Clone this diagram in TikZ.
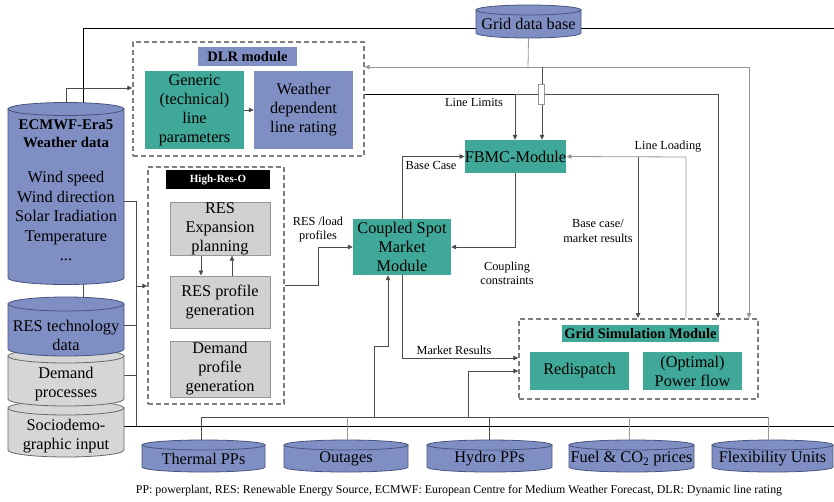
\documentclass[tikz,border=0pt]{standalone}
\usepackage{fontspec}
\setmainfont{Liberation Serif}
\usetikzlibrary{arrows.meta,calc}
\definecolor{cblue}{RGB}{127,143,196}
\definecolor{cblued}{RGB}{72,84,125}
\definecolor{cteal}{RGB}{63,168,152}
\definecolor{cgrayf}{RGB}{210,208,209}
\definecolor{cgrayd}{RGB}{150,150,150}
\definecolor{ccylg}{RGB}{214,214,214}
\definecolor{ccylgd}{RGB}{105,105,105}
\definecolor{cdash}{RGB}{125,125,125}
\definecolor{cdark}{RGB}{75,75,75}
\definecolor{clight}{RGB}{150,150,150}
\newcommand\dbcyl[7]{%
  \path[#7] (#2,#4) -- (#2,#5) arc[start angle=180,end angle=360,x radius={((#3)-(#2))/2*1pt},y radius=#6pt] -- (#3,#4) -- cycle;
  \path[#7] ({((#2)+(#3))/2},#4) ellipse[x radius={((#3)-(#2))/2*1pt},y radius=#6pt];
  \node[inner sep=0pt,minimum width={((#3)-(#2))*1pt},minimum height={((#5)-(#4)+2*(#6))*1pt}] (#1) at ({((#2)+(#3))/2},{((#4)+(#5))/2}) {};
}
\begin{document}
\begin{tikzpicture}[x=1pt,y=-1pt,
  box/.style={rectangle,inner sep=0pt,align=center,font=\fontsize{16.3}{19}\selectfont},
  tealbox/.style={box,fill=cteal},
  bluebox/.style={box,fill=cblue},
  graybox/.style={box,fill=cgrayf,draw=cgrayd,line width=1pt},
  dashbox/.style={rectangle,inner sep=0pt,draw=cdash,line width=1.4pt,dash pattern=on 5pt off 3pt},
  hdr/.style={rectangle,inner sep=0pt,align=center,font=\bfseries\fontsize{14.5}{17}\selectfont},
  cyltxt/.style={inner sep=0pt,align=center,font=\fontsize{16.3}{19}\selectfont},
  lbl/.style={inner sep=0pt,align=center,font=\fontsize{12.3}{14}\selectfont},
  bluecyl/.style={fill=cblue,draw=cblued,line width=0.8pt},
  graycyl/.style={fill=ccylg,draw=ccylgd,line width=0.8pt},
  blk/.style={draw=black,line width=0.9pt},
  dk/.style={draw=cdark,line width=0.8pt},
  lt/.style={draw=clight,line width=0.8pt},
  tip/.style={-{Triangle[length=5pt,width=4.5pt]}}
]
\path[use as bounding box] (0,0) rectangle (834,501);

% long black lines
\draw[blk] (83,110) -- (83,28) -- (834,28);
\draw[blk] (124,426) -- (834,426);

% left side feed lines
\draw[dk] (83,278) -- (83,300);
\draw[dk] (124,201) -- (136,201) -- (136,426);
\draw[dk] (124,325) -- (136,325);
\draw[dk] (124,375) -- (136,375);

% cylinders left stack
\dbcyl{socio}{8}{124}{408}{450}{7}{graycyl}
\dbcyl{demand}{8}{124}{356}{399}{7}{graycyl}
\dbcyl{restech}{8}{124}{304}{349}{7}{bluecyl}
\dbcyl{ecmwf}{8}{124}{109}{278}{6.5}{bluecyl}
\node[cyltxt,font=\bfseries\fontsize{14.8}{18}\selectfont] (ecmwf-t) at (66,134) {ECMWF-Era5\\Weather data};
\node[cyltxt,font=\fontsize{16.3}{19.5}\selectfont] (ecmwf-b) at (66,216) {Wind speed\\Wind direction\\Solar Iradiation\\Temperature\\...};
\node[cyltxt] (restech-t) at (66,335) {RES technology\\data};
\node[cyltxt] (demand-t) at (66,384) {Demand\\processes};
\node[cyltxt] (socio-t) at (66,436) {Sociodemo-\\graphic input};

% grid data base
\dbcyl{gdb}{476}{581}{10}{33}{5}{bluecyl}
\node[cyltxt] (gdb-t) at (528.5,24) {Grid data base};

% bottom cylinders
\dbcyl{thermal}{142}{265}{445}{467}{5}{bluecyl}
\dbcyl{outages}{284}{408}{445}{467}{5}{bluecyl}
\dbcyl{hydro}{427}{552}{445}{467}{5}{bluecyl}
\dbcyl{fuel}{569}{694}{445}{467}{5}{bluecyl}
\dbcyl{flex}{712}{833}{445}{467}{5}{bluecyl}
\node[cyltxt] (thermal-t) at (203.5,459) {Thermal PPs};
\node[cyltxt] (outages-t) at (346,459) {Outages};
\node[cyltxt] (hydro-t) at (489.5,459) {Hydro PPs};
\node[cyltxt] (fuel-t) at (631.5,459) {Fuel \& CO\textsubscript{2} prices};
\node[cyltxt] (flex-t) at (772.5,459) {Flexibility Units};

% DLR module
\node[dashbox,minimum width=231pt,minimum height=114pt] (dlr) at (248.5,99) {};
\node[hdr,fill=cblue,minimum width=99pt,minimum height=19pt] (dlr-h) at (247.5,56.5) {DLR module};
\node[tealbox,minimum width=99pt,minimum height=78pt] (generic) at (194.5,110) {Generic\\(technical)\\line\\parameters};
\node[bluebox,minimum width=99pt,minimum height=78pt] (wdlr) at (303.5,110) {Weather\\dependent\\line rating};
\draw[dk,tip] (generic) -- (wdlr);

% High-Res-O
\node[dashbox,minimum width=136pt,minimum height=237pt] (hro) at (216,285.5) {};
\node[rectangle,inner sep=0pt,fill=black,text=white,font=\bfseries\fontsize{11}{13}\selectfont,minimum width=104pt,minimum height=19pt] (hro-h) at (218,179.5) {High-Res-O};
\node[graybox,minimum width=100pt,minimum height=52pt] (resexp) at (220,229) {RES\\Expansion\\planning};
\node[graybox,minimum width=100pt,minimum height=52pt] (resprof) at (220,302) {RES profile\\generation};
\node[graybox,minimum width=100pt,minimum height=56pt] (demprof) at (220,369) {Demand\\profile\\generation};
\draw[dk,tip] (resexp.south -| 201,0) -- (resprof.north -| 201,0);
\draw[dk,tip] (resprof.north -| 232,0) -- (resexp.south -| 232,0);

% ECMWF -> DLR ; feeds -> High-Res-O
\draw[dk,tip] (66,103) -- (66,88) -- (dlr.west |- 0,88);
\draw[dk,tip] (136,286) -- (hro.west |- 0,286);

% Coupled spot market
\node[tealbox,minimum width=98pt,minimum height=56pt] (coupled) at (402,247) {Coupled Spot\\Market\\Module};
\node[tealbox,minimum width=99pt,minimum height=33pt] (fbmc) at (515.5,156.5) {FBMC-Module};

\draw[dk,tip] (hro.east |- 0,285) -- (318,285) -- (318,247) -- (coupled.west);
\node[lbl] (l-res) at (318,230) {RES /load\\profiles};

\draw[dk,tip] (coupled.north) |- (fbmc.west);
\node[lbl] (l-base) at (431,165) {Base Case};
\draw[dk,tip] (fbmc.south) |- (coupled.east);
\node[lbl] (l-coup) at (507,273) {Coupling\\constraints};

% Grid Simulation Module
\node[dashbox,minimum width=239pt,minimum height=80pt] (gsm) at (638.5,359) {};
\node[hdr,fill=cteal,minimum width=157pt,minimum height=17pt] (gsm-h) at (640.5,333.5) {Grid Simulation Module};
\node[tealbox,minimum width=99pt,minimum height=38pt] (redisp) at (579.5,371) {Redispatch};
\node[tealbox,minimum width=99pt,minimum height=38pt] (pflow) at (692.5,371) {(Optimal)\\Power flow};

\draw[dk,tip] (coupled.south) |- (gsm.west |- 0,358);
\node[lbl] (l-mr) at (454,350) {Market Results};

% grid data base links
\draw[lt] (gdb.south) -- (528,67);
\draw[lt,tip] (528,67) -- (dlr.east |- 0,67);
\draw[lt,tip] (528,67) -- (749,67) -- (749,318);
\draw[dk,tip] (542,67) -- (fbmc.north -| 542,0);

% DLR line limits
\draw[blk] (dlr.east |- 0,94) -- (515,94);
\draw[dk,tip] (515,94) -- (fbmc.north -| 515,0);
\draw[dk,tip] (515,94) -- (718,94) -- (718,318);
\node[rectangle,fill=white,draw=clight,line width=0.6pt,minimum width=6pt,minimum height=20pt,inner sep=0pt] (jump) at (541.5,94) {};
\node[lbl] (l-ll) at (474,102) {Line Limits};

% FBMC <-> grid sim
\draw[lt,tip] (686,318) -- (686,157) -- (fbmc.east);
\draw[dk,tip] (638,157) -- (638,318);
\node[lbl] (l-load) at (668,147) {Line Loading};
\node[lbl] (l-bc) at (598,231) {Base case/\\market results};

% bottom bus
\draw[dk] (201,417) -- (768,417);
\draw[dk] (201,417) -- (thermal.north -| 201,0);
\draw[lt] (347,417) -- (outages.north -| 347,0);
\draw[dk] (489,417) -- (hydro.north -| 489,0);
\draw[lt] (629,417) -- (fuel.north -| 629,0);
\draw[lt] (768,417) -- (flex.north -| 768,0);
\draw[dk,tip] (374,417) -- (374,346) -- (388,346) -- (coupled.south -| 388,0);
\draw[dk,tip] (468,417) -- (468,371) -- (gsm.west |- 0,371);

% caption
\node[inner sep=0pt,font=\fontsize{11.9}{14}\selectfont] (caption) at (459,491) {PP: powerplant, RES: Renewable Energy Source, ECMWF: European Centre for Medium Weather Forecast, DLR: Dynamic line rating};
\end{tikzpicture}
\end{document}
